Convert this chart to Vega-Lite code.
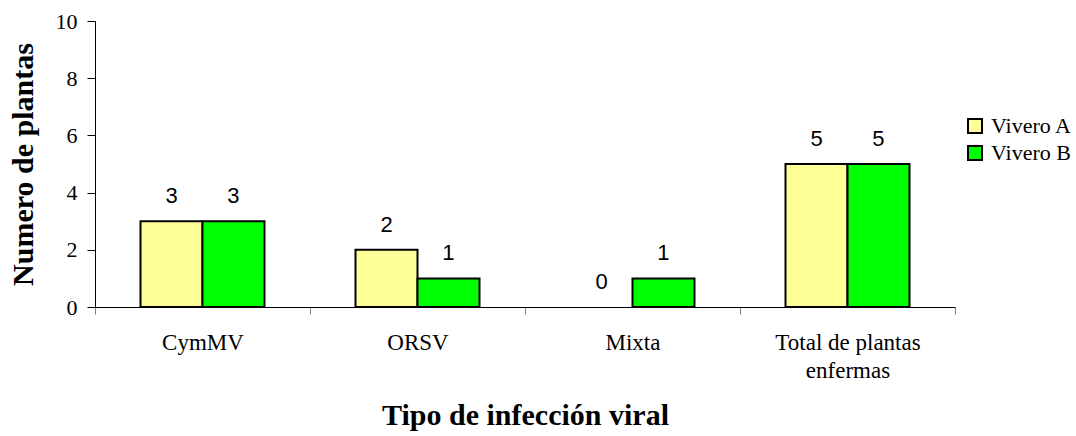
{
  "$schema": "https://vega.github.io/schema/vega-lite/v6.json",
  "width": 860,
  "height": 286,
  "autosize": {"type": "none"},
  "padding": {"left": 95, "top": 21, "right": 121, "bottom": 129},
  "background": "white",
  "config": {
    "view": {"stroke": null},
    "axis": {"labelFont": "Times New Roman, Liberation Serif, serif", "titleFont": "Times New Roman, Liberation Serif, serif", "labelColor": "black", "titleColor": "black"},
    "legend": {"labelFont": "Times New Roman, Liberation Serif, serif", "labelColor": "black"}
  },
  "data": {
    "values": [
      {"tipo": "CymMV", "vivero": "Vivero A", "n": 3},
      {"tipo": "CymMV", "vivero": "Vivero B", "n": 3},
      {"tipo": "ORSV", "vivero": "Vivero A", "n": 2},
      {"tipo": "ORSV", "vivero": "Vivero B", "n": 1},
      {"tipo": "Mixta", "vivero": "Vivero A", "n": 0},
      {"tipo": "Mixta", "vivero": "Vivero B", "n": 1},
      {"tipo": "Total de plantas enfermas", "vivero": "Vivero A", "n": 5},
      {"tipo": "Total de plantas enfermas", "vivero": "Vivero B", "n": 5}
    ]
  },
  "encoding": {
    "x": {
      "field": "tipo",
      "type": "nominal",
      "sort": null,
      "scale": {"paddingInner": 0, "paddingOuter": 0},
      "axis": {
        "title": "Tipo de infección viral",
        "titleFontSize": 30,
        "titleFontWeight": "bold",
        "titleY": 117,
        "titleBaseline": "alphabetic",
        "labelFontSize": 23,
        "labelAngle": 0,
        "labelPadding": 17,
        "labelLineHeight": 28,
        "labelExpr": "datum.label == 'Total de plantas enfermas' ? ['Total de plantas', 'enfermas'] : datum.label",
        "tickBand": "extent",
        "tickSize": 7,
        "tickColor": "#808080",
        "domainColor": "black",
        "grid": false
      }
    },
    "xOffset": {
      "field": "vivero",
      "type": "nominal",
      "scale": {"paddingInner": 0, "paddingOuter": 0.734}
    },
    "y": {
      "field": "n",
      "type": "quantitative",
      "scale": {"domain": [0, 10]},
      "axis": {
        "title": "Numero de plantas",
        "titleFontSize": 30,
        "titleFontWeight": "bold",
        "titleX": -72,
        "titleBaseline": "middle",
        "values": [0, 2, 4, 6, 8, 10],
        "labelFontSize": 22,
        "labelPadding": 10,
        "tickSize": 8,
        "tickColor": "black",
        "domainColor": "black",
        "grid": false
      }
    }
  },
  "layer": [
    {
      "transform": [{"filter": "datum.n > 0"}],
      "mark": {"type": "bar", "stroke": "black", "strokeWidth": 2},
      "encoding": {
        "color": {
          "field": "vivero",
          "type": "nominal",
          "scale": {"domain": ["Vivero A", "Vivero B"], "range": ["#FFFF99", "#00FF00"]},
          "legend": {
            "title": null,
            "orient": "none",
            "legendX": 869,
            "legendY": 94,
            "symbolType": "square",
            "symbolSize": 196,
            "symbolStrokeColor": "black",
            "symbolStrokeWidth": 2,
            "labelFontSize": 22,
            "rowPadding": 5,
            "labelOffset": 5
          }
        }
      }
    },
    {
      "mark": {"type": "text", "font": "Liberation Sans", "fontSize": 22, "color": "black", "baseline": "alphabetic", "dy": -18},
      "encoding": {
        "text": {"field": "n", "type": "quantitative"}
      }
    }
  ]
}
